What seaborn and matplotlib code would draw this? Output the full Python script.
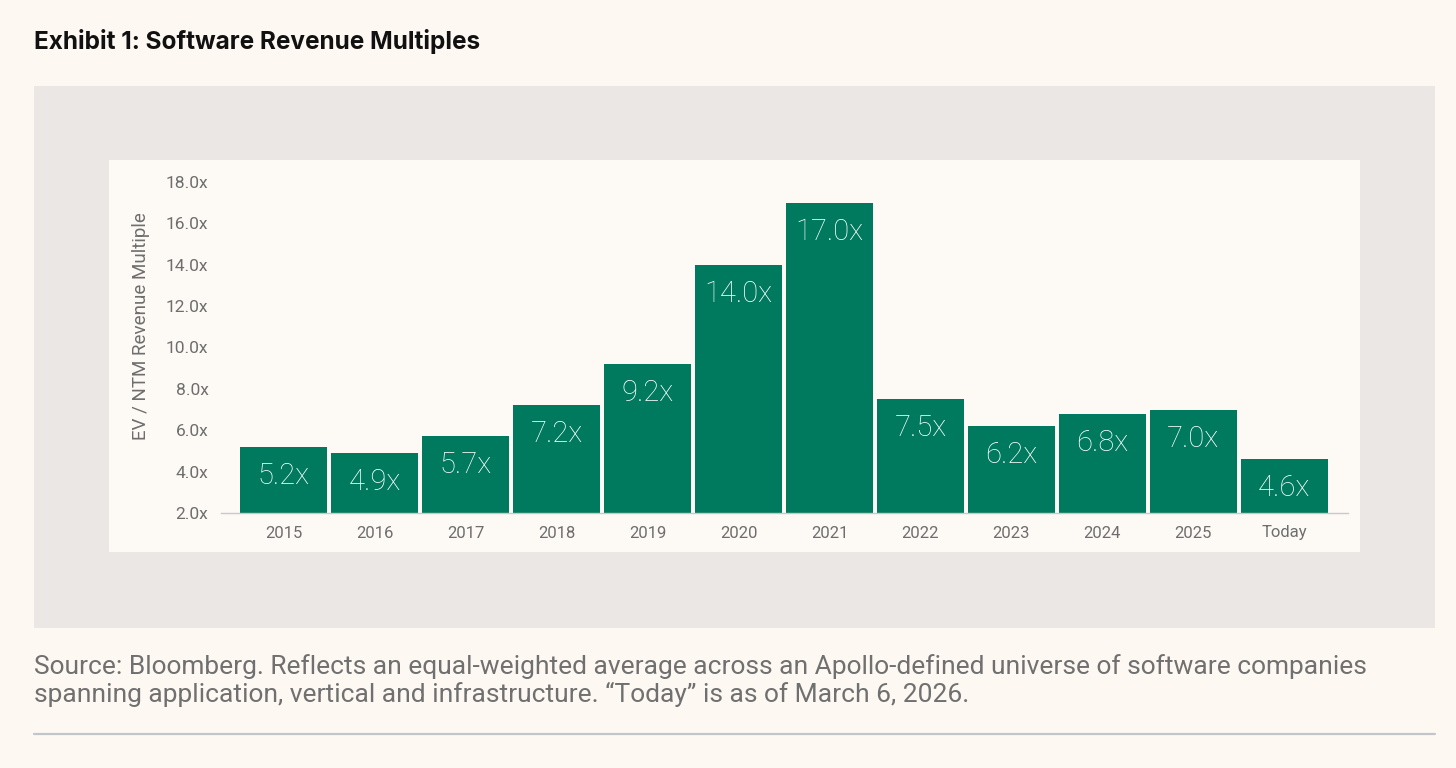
import matplotlib.pyplot as plt
import matplotlib.patches as mpatches
import seaborn as sns
import pandas as pd

years = ["2015", "2016", "2017", "2018", "2019", "2020", "2021",
         "2022", "2023", "2024", "2025", "Today"]
multiples = [5.2, 4.9, 5.7, 7.2, 9.2, 14.0, 17.0, 7.5, 6.2, 6.8, 7.0, 4.6]
y_ticks = [2, 4, 6, 8, 10, 12, 14, 16, 18]

df = pd.DataFrame({"year": years, "multiple": multiples})

sns.set_theme(style="white")
plt.rcParams["font.family"] = ["Roboto", "DejaVu Sans"]

W, H = 1456, 768
fig = plt.figure(figsize=(W / 100, H / 100), dpi=100)
fig.patch.set_facecolor("#fdf8f2")

# grey panel and the lighter chart card inside it
def px_rect(x0, y0, x1, y1, color):
    fig.patches.append(mpatches.Rectangle((x0 / W, 1 - y1 / H), (x1 - x0) / W, (y1 - y0) / H,
                                          transform=fig.transFigure, facecolor=color,
                                          edgecolor="none", zorder=-5))

px_rect(34, 86, 1435, 628, "#ebe7e4")
px_rect(109, 160, 1360, 552, "#fdf9f5")

ax = fig.add_axes([221 / W, 1 - 513 / H, (1348 - 221) / W, (513 - 175.6) / H])
ax.set_facecolor("none")

sns.barplot(data=df, x="year", y="multiple", color="#007a5e", saturation=1,
            width=0.96, ax=ax)

# bars start at 2.0x, so redraw heights from that baseline
for patch, v in zip(ax.patches, multiples):
    patch.set_y(2)
    patch.set_height(v - 2)
    patch.set_edgecolor("none")

ax.set_ylim(2, 18.3)
ax.set_xlim(-0.69, len(years) - 0.3)
ax.set_yticks(y_ticks)
ax.set_yticklabels([f"{t:.1f}x" for t in y_ticks])
ax.tick_params(axis="y", length=0, pad=9, labelsize=12.5, labelcolor="#6e6e6e")
ax.tick_params(axis="x", length=0, pad=9, labelsize=12, labelcolor="#6e6e6e")
ax.set_xlabel("")
ax.set_ylabel("")
for side in ["top", "right", "left"]:
    ax.spines[side].set_visible(False)
ax.spines["bottom"].set_color("#c9c9c9")
ax.spines["bottom"].set_linewidth(1)

for i, v in enumerate(multiples):
    ax.annotate(f"{v:.1f}x", (i, v), xytext=(0, -29 * 0.72), textcoords="offset points",
                ha="center", va="center", color="white", fontsize=21,
                family=["Roboto", "DejaVu Sans"], fontweight="light")

fig.text(141 / W, 1 - 326 / H, "EV / NTM Revenue Multiple", rotation=90,
         ha="center", va="center", fontsize=13.5, color="#6e6e6e")

fig.text(34 / W, 1 - 41 / H, "Exhibit 1: Software Revenue Multiples",
         ha="left", va="center", fontsize=17.5, fontweight="bold", color="#111111",
         family=["Inter", "DejaVu Sans"])

fig.text(34 / W, 1 - 667 / H,
         "Source: Bloomberg. Reflects an equal-weighted average across an Apollo-defined universe of software companies",
         ha="left", va="center", fontsize=19, color="#707070")
fig.text(34 / W, 1 - 694 / H,
         "spanning application, vertical and infrastructure. \u201cToday\u201d is as of March 6, 2026.",
         ha="left", va="center", fontsize=19, color="#707070")

fig.lines.append(plt.Line2D([34 / W, 1435 / W], [1 - 734 / H, 1 - 734 / H],
                            transform=fig.transFigure, color="#c3c6c9", linewidth=1.6))

fig.savefig("out.png", dpi=100, facecolor=fig.get_facecolor())
